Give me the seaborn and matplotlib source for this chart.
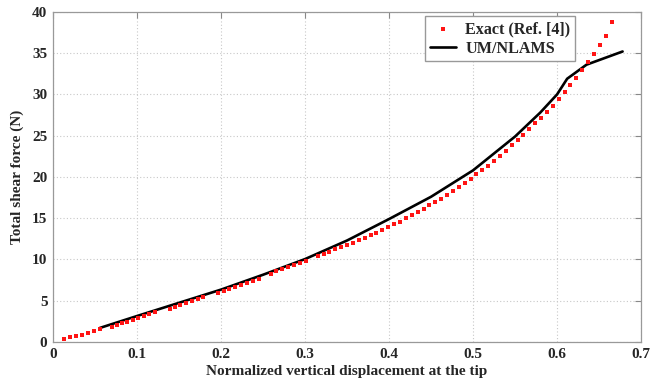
import numpy as np
import pandas as pd
import matplotlib
matplotlib.use('Agg')
import matplotlib.pyplot as plt
import seaborn as sns

# exact solution (Ref. [4])
x_exact = [0.0135, 0.0205, 0.0275, 0.0345, 0.0415, 0.0488, 0.0560,
           0.0698, 0.0758, 0.0817, 0.0877, 0.0948, 0.1016, 0.1083, 0.1147, 0.1214,
           0.1390, 0.1450, 0.1515, 0.1580, 0.1650, 0.1720, 0.1790,
           0.1968, 0.2030, 0.2100, 0.2167, 0.2240, 0.2310, 0.2385, 0.2456,
           0.2590, 0.2655, 0.2730, 0.2800, 0.2873, 0.2940, 0.3010,
           0.3150, 0.3220, 0.3290, 0.3360, 0.3430, 0.3500, 0.3570, 0.3640, 0.3710, 0.3780, 0.3850, 0.3920,
           0.3990, 0.4060, 0.4130, 0.4200, 0.4270, 0.4340, 0.4410, 0.4480, 0.4550, 0.4620, 0.4690,
           0.4760, 0.4830, 0.4900, 0.4970, 0.5040, 0.5110,
           0.5180, 0.5250, 0.5320, 0.5390, 0.5460, 0.5530, 0.5600, 0.5670, 0.5740, 0.5810, 0.5880,
           0.5950, 0.6020, 0.6090, 0.6155, 0.6225, 0.6300, 0.6370, 0.6440, 0.6510, 0.6580, 0.6655]
y_exact = [0.38, 0.55, 0.72, 0.90, 1.07, 1.28, 1.55,
           1.86, 2.06, 2.26, 2.46, 2.67, 2.93, 3.15, 3.35, 3.60,
           4.06, 4.25, 4.48, 4.70, 4.92, 5.17, 5.41,
           5.98, 6.18, 6.42, 6.64, 6.85, 7.10, 7.35, 7.60,
           8.25, 8.55, 8.82, 9.05, 9.30, 9.54, 9.82,
           10.40, 10.68, 10.95, 11.23, 11.48, 11.76, 12.04, 12.32, 12.62, 12.92, 13.22, 13.55,
           13.90, 14.25, 14.60, 14.97, 15.35, 15.72, 16.15, 16.55, 16.95, 17.35, 17.80,
           18.30, 18.80, 19.30, 19.80, 20.30, 20.85,
           21.35, 21.90, 22.48, 23.15, 23.82, 24.48, 25.10, 25.80, 26.50, 27.20, 27.90,
           28.65, 29.50, 30.30, 31.20, 32.00, 32.90, 33.90, 34.90, 36.00, 37.10, 38.80]

# UM/NLAMS result
x_model = [0.0556, 0.10, 0.15, 0.20, 0.25, 0.30, 0.35, 0.40, 0.45, 0.50, 0.55, 0.58, 0.60, 0.612, 0.635, 0.678]
y_model = [1.70, 3.15, 4.75, 6.35, 8.15, 10.05, 12.30, 14.90, 17.60, 20.80, 24.90, 27.80, 30.00, 31.90, 33.60, 35.20]

x_ticks = [0, 0.1, 0.2, 0.3, 0.4, 0.5, 0.6, 0.7]
x_tick_labels = ['0', '0.1', '0.2', '0.3', '0.4', '0.5', '0.6', '0.7']
y_ticks = [0, 5, 10, 15, 20, 25, 30, 35, 40]

exact_df = pd.DataFrame({'disp': x_exact, 'force': y_exact})
model_df = pd.DataFrame({'disp': x_model, 'force': y_model})

sns.set_style('white')
plt.rcParams['font.family'] = ['Liberation Serif', 'DejaVu Serif']
plt.rcParams['font.weight'] = 'bold'
plt.rcParams['axes.labelweight'] = 'bold'

fig = plt.figure(figsize=(6.66, 3.83), dpi=100)
ax = fig.add_axes([0.0796, 0.107, 0.883, 0.862])

sns.scatterplot(data=exact_df, x='disp', y='force', ax=ax, color='#ff1414', marker='s',
                s=10, linewidth=0, label='Exact (Ref. [4])', zorder=3)
sns.lineplot(data=model_df, x='disp', y='force', ax=ax, color='black', linewidth=1.9,
             label='UM/NLAMS', zorder=2, sort=False)

ax.set_xlim(0, 0.7)
ax.set_ylim(0, 40)
ax.set_xticks(x_ticks)
ax.set_xticklabels(x_tick_labels)
ax.set_yticks(y_ticks)
ax.grid(True, linestyle=(0, (1, 2)), color='#c8c8c8', linewidth=0.8)
ax.tick_params(direction='in', length=4, width=0.8, color='#888888', labelsize=11,
               top=True, right=True, pad=4)
for lab in ax.get_xticklabels() + ax.get_yticklabels():
    lab.set_fontweight('bold')
for sp in ax.spines.values():
    sp.set_color('#999999')
    sp.set_linewidth(0.9)

ax.set_xlabel('Normalized vertical displacement at the tip', fontsize=11, fontweight='bold', labelpad=3)
ax.set_ylabel('Total shear force (N)', fontsize=11, fontweight='bold', labelpad=6)

h, l = ax.get_legend_handles_labels()
leg = ax.legend(h, l, loc='upper right', bbox_to_anchor=(0.888, 0.986), borderaxespad=0,
                fontsize=11.6, frameon=True, fancybox=False, framealpha=1, edgecolor='#999999',
                handlelength=1.6, handletextpad=0.6, borderpad=0.3, labelspacing=0.2,
                markerscale=0.8)
for t in leg.get_texts():
    t.set_fontweight('bold')

fig.savefig('out.png', dpi=100)
